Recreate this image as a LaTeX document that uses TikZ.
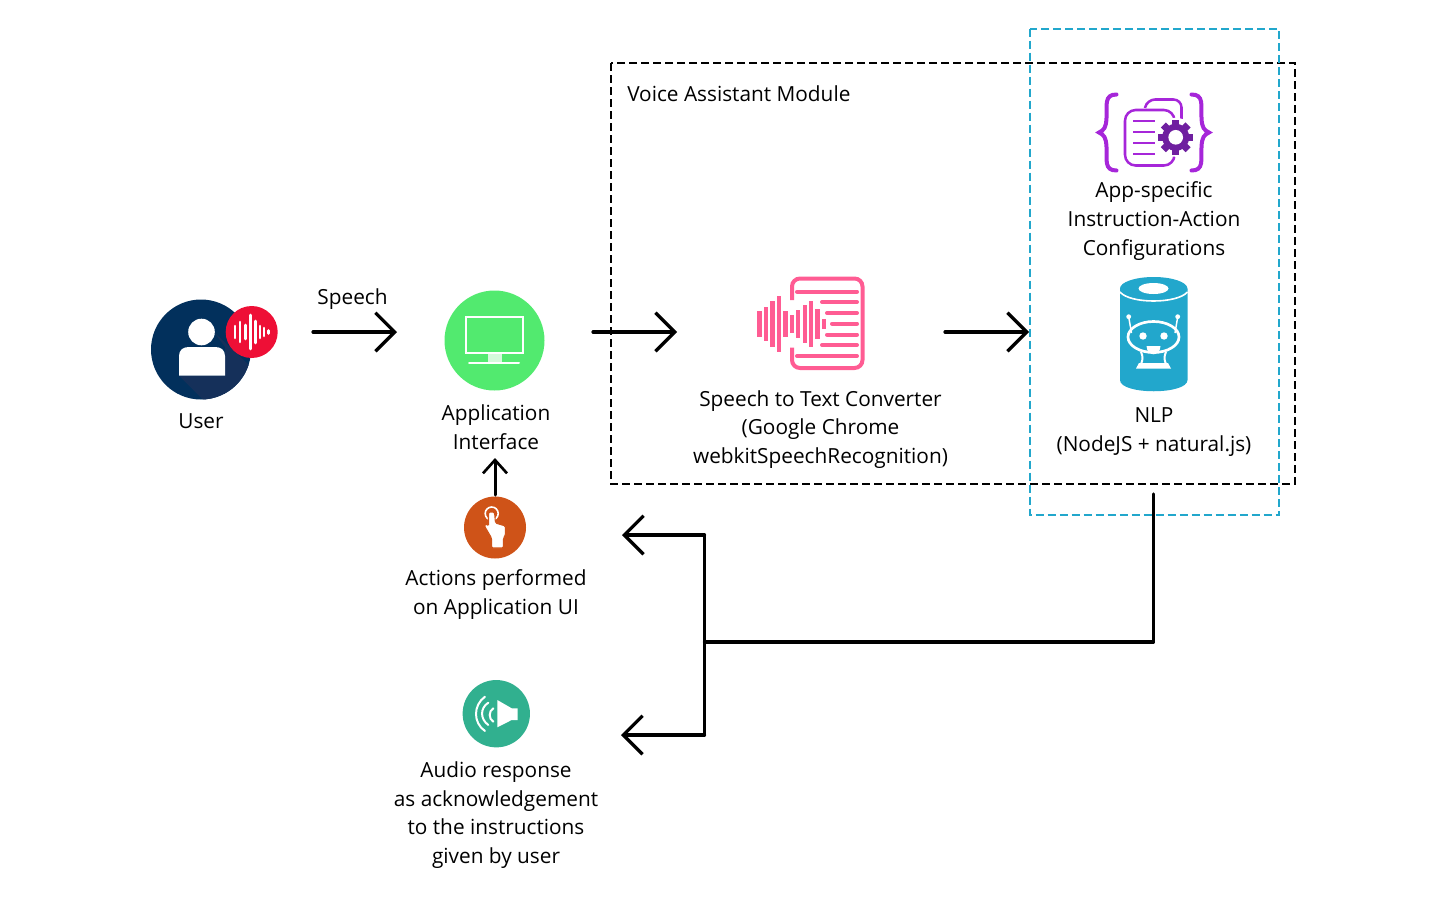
\documentclass[tikz,border=0pt]{standalone}
\usepackage{fontspec}
\setmainfont{Open Sans}
\usetikzlibrary{arrows.meta}
\definecolor{userblue}{HTML}{02305C}
\definecolor{usershade}{HTML}{15305A}
\definecolor{userred}{HTML}{EE0F36}
\definecolor{appgreen}{HTML}{52EA6F}
\definecolor{sttpink}{HTML}{FF5C93}
\definecolor{cfgpurple}{HTML}{A626D9}
\definecolor{gearpurple}{HTML}{6F1FA0}
\definecolor{nlpblue}{HTML}{22A7CC}
\definecolor{uiorange}{HTML}{CF5318}
\definecolor{audiogreen}{HTML}{31B08F}
\tikzset{
  label/.style={align=center,font=\fontsize{15.6}{21.5}\selectfont,text=black},
  flow/.style={line width=2.4pt,line cap=round,-{Straight Barb[length=14.5pt,width=29pt,line width=2.4pt]}},
  smallflow/.style={line width=2.25pt,line cap=round,-{Straight Barb[length=10pt,width=18pt,line width=2pt]}},
  trunk/.style={line width=2.4pt,line cap=round,line join=round},
  disc/.style={circle,inner sep=0pt,draw=none},
}
\begin{document}
\begin{tikzpicture}[x=0.75pt,y=-0.75pt]
\useasboundingbox (0,0) rectangle (1440,900);

% module boxes
\draw [line width=1.5pt,dash pattern=on 6pt off 3pt] (611,63) rectangle (1295,484);
\draw [line width=1.5pt,nlpblue,dash pattern=on 6pt off 3pt] (1030,28.5) rectangle (1279,515);
\node [label,anchor=west,inner sep=0pt] (module) at (627,94) {Voice Assistant Module};

% user
\node [disc,fill=userblue,minimum size=75pt] (user) at (201,349.5) {};
\begin{scope}
\clip (201,349.5) circle (50);
\fill [usershade] (179,375.7) -- (225,375.7) -- (225,347) -- (214,332) -- (270,385) -- (270,430) -- (233.3,430) -- cycle;
\end{scope}
\fill [white] (201.5,332) circle (13.3);
\fill [white] (179,375.7) -- (179,356) .. controls (179,350) and (183,347) .. (189,347) -- (215,347) .. controls (221,347) and (225,350) .. (225,356) -- (225,375.7) -- cycle;
\node [disc,fill=userred,minimum size=39pt] (voice) at (251.7,332) {};
\foreach \x/\h in {235/6,240/10,245.5/7,250.3/17,255.5/11,260/6,264/4,268.5/1.5}
  \draw [white,line width=1.9pt,line cap=round] (\x,332-\h) -- (\x,332+\h);
\node [label] (userlabel) at (201,421.5) {User};

% application interface
\node [disc,fill=appgreen,minimum size=75pt] (app) at (494.5,340.5) {};
\draw [white,line width=1.5pt] (466,317) rectangle (522.5,353);
\fill [white!75!appgreen] (488,354) rectangle (502,362);
\draw [white,line width=1.5pt,line cap=round] (469,363) -- (519,363);
\node [label] (applabel) at (496,427) {Application\\Interface};

% speech to text icon
\draw [sttpink,line width=3pt,rounded corners=6pt] (792,300) -- (792,278.5) -- (862.5,278.5) -- (862.5,368) -- (792,368) -- (792,347.5);
\foreach \y/\xa in {291.7/797,302/822,313/827,323.7/832,334.7/827,345/822,356/797}
  \draw [sttpink,line width=3pt,line cap=round] (\xa,\y) -- (857,\y);
\foreach \x/\h in {759.3/13,766/17,772.3/23,779/28,785.3/13,791.7/9,798/14,804.7/19,811/23,817.3/15,824/5}
  \fill [sttpink] (\x-2.2,323.7-\h) rectangle (\x+2.2,323.7+\h);
\node [label] (sttlabel) at (820.5,429.5) {Speech to Text Converter\\(Google Chrome\\webkitSpeechRecognition)};

% config icon
\draw [cfgpurple,line width=3pt,line cap=round] (1116.5,94.5) .. controls (1104,94.5) and (1107,105) .. (1106.5,118) .. controls (1106,128) and (1104,130) .. (1099,132.5) .. controls (1104,135) and (1106,137) .. (1106.5,147) .. controls (1107,160) and (1104,170.5) .. (1116.5,170.5);
\draw [cfgpurple,line width=3pt,line cap=round] (1191.5,94.5) .. controls (1204,94.5) and (1201,105) .. (1201.5,118) .. controls (1202,128) and (1204,130) .. (1209,132.5) .. controls (1204,135) and (1202,137) .. (1201.5,147) .. controls (1201,160) and (1204,170.5) .. (1191.5,170.5);
\draw [cfgpurple,line width=1.9pt,rounded corners=6pt] (1145,108) -- (1147,99.5) -- (1181.5,99.5) -- (1181.5,124);
\draw [cfgpurple,line width=1.9pt,rounded corners=8pt] (1125,110) rectangle (1174.5,165.5);
\foreach \y in {121,132,142.7,153.7}
  \draw [cfgpurple,line width=1.5pt] (1133,\y) -- (1155,\y);
\fill [white] (1175.7,137.3) circle (19.5);
\fill [gearpurple] (1175.7,137.3) circle (13.5);
\foreach \a in {0,45,...,135}
  \fill [gearpurple,shift={(1175.7,137.3)},rotate=\a] (-3.6,-17.5) rectangle (3.6,17.5);
\node [disc,fill=white,minimum size=11pt] (gear) at (1175.7,137.3) {};
\node [label] (cfglabel) at (1154,221) {App-specific\\Instruction-Action\\Configurations};

% nlp icon
\fill [nlpblue] (1120,288.5) -- (1120,380) .. controls (1120,395) and (1187.5,395) .. (1187.5,380) -- (1187.5,288.5) -- cycle;
\fill [nlpblue] (1153.7,288.5) ellipse (33.7 and 11.5);
\draw [white,line width=1.2pt] (1120,292) .. controls (1130,304) and (1177,304) .. (1187.5,292);
\fill [white] (1153.5,288.5) ellipse (15 and 5.5);
\draw [white,line width=2pt] (1153.5,337) ellipse (25.5 and 15.5);
\fill [white] (1143,336) circle (3.7);
\fill [white] (1164,336) circle (3.7);
\fill [white] (1146.5,346) -- (1160.5,346) .. controls (1160,357) and (1147,357) .. (1146.5,346) -- cycle;
\fill [white] (1128.7,316.7) circle (2.4);
\fill [white] (1177.7,316.7) circle (2.4);
\draw [white,line width=1.1pt] (1128.7,317) -- (1131.5,333);
\draw [white,line width=1.1pt] (1177.7,317) -- (1175,333);
\draw [white,line width=1.5pt] (1141,352) .. controls (1143,356) and (1143,360) .. (1141,364);
\draw [white,line width=1.5pt] (1166,352) .. controls (1164,356) and (1164,360) .. (1166,364);
\fill [white] (1136,368.5) -- (1139,363) -- (1168,363) -- (1171,368.5) -- cycle;
\node [label] (nlplabel) at (1154,432) {NLP\\(NodeJS + natural.js)};

% actions on ui
\node [disc,fill=uiorange,minimum size=46.5pt] (ui) at (495,527.5) {};
\draw [white,line width=1.2pt] (491.7,513.5) circle (6.5);
\fill [white,rounded corners=1pt,draw=uiorange,line width=0.8pt] (488.5,512) -- (494.5,512) -- (495.5,523) -- (505.5,526) -- (505.5,535) -- (503.5,538) -- (503.5,548) -- (491.5,548) -- (491.5,538) -- (484.5,526) -- (486,523.5) -- (488.5,526) -- cycle;
\node [label] (uilabel) at (496,594.5) {Actions performed\\on Application UI};

% audio response
\node [disc,fill=audiogreen,minimum size=50.5pt] (audio) at (496.3,713.7) {};
\fill [white] (497.3,700) -- (511.7,708.3) -- (517.7,708.3) -- (517.7,720) -- (511.7,720) -- (497.3,727.3) -- cycle;
\draw [white,line width=1.5pt,line cap=round] (485,696.7) .. controls (473,705) and (473,723) .. (485,731);
\draw [white,line width=1.5pt,line cap=round] (488.3,702.7) .. controls (480,708) and (480,719) .. (488.3,725);
\draw [white,line width=1.5pt,line cap=round] (493.3,708.3) .. controls (488.5,711) and (488.5,719) .. (493.3,721.7);
\node [label] (audiolabel) at (496,815) {Audio response\\as acknowledgement\\to the instructions\\given by user};

% connectors
\coordinate (speechstart) at (313,332);
\coordinate (speechend) at (397,332);
\coordinate (appstart) at (593,332);
\coordinate (append) at (677,332);
\coordinate (sttstart) at (945,332);
\coordinate (sttend) at (1029,332);
\coordinate (uistart) at (495,495);
\coordinate (uiend) at (495,458);
\coordinate (nlpstart) at (1153.5,494);
\coordinate (nlpturn) at (1153.5,642);
\coordinate (junction) at (704.5,642);
\coordinate (bustop) at (704.5,535);
\coordinate (busbottom) at (704.5,735);
\coordinate (topend) at (622,535);
\coordinate (bottomend) at (621,735);

\node [label] (speechlabel) at (352.5,299) {Speech};
\draw [flow] (speechstart) -- (speechend);
\draw [flow] (appstart) -- (append);
\draw [flow] (sttstart) -- (sttend);
\draw [smallflow] (uistart) -- (uiend);
\draw [trunk] (nlpstart) -- (nlpturn) -- (junction);
\draw [trunk] (bustop) -- (busbottom);
\draw [flow] (bustop) -- (topend);
\draw [flow] (busbottom) -- (bottomend);
\end{tikzpicture}
\end{document}
